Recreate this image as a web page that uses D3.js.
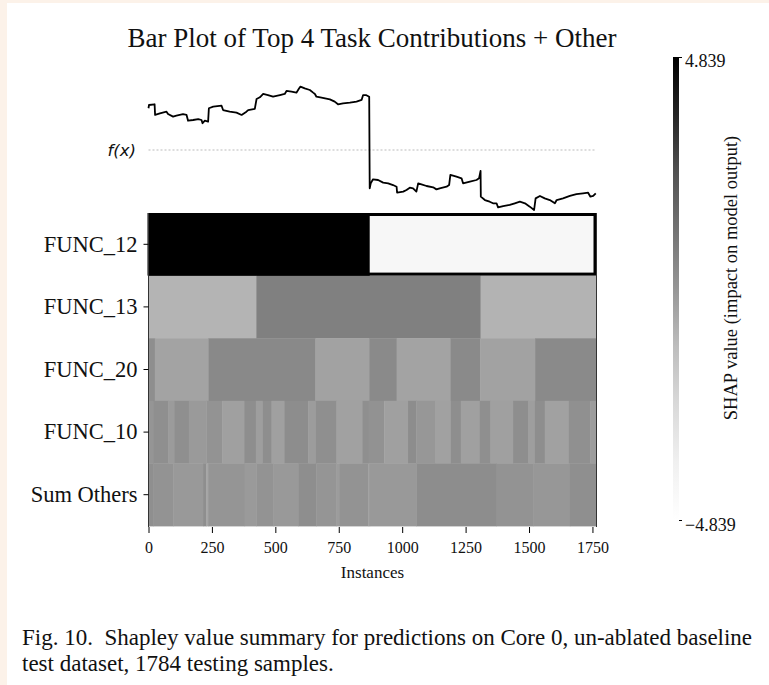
<!DOCTYPE html>
<html><head><meta charset="utf-8">
<script src="https://cdn.jsdelivr.net/npm/d3@7"></script>
<style>
  body { margin: 0; background: #fff; }
  svg { display: block; }
  text { font-family: "Liberation Serif", "Times New Roman", serif; fill: #111; }
</style>
</head><body>
<svg id="chart" width="769" height="685"></svg>
<script>
// ---- data ----------------------------------------------------------------
const rowNames = ["FUNC_12", "FUNC_13", "FUNC_20", "FUNC_10", "Sum Others"];
const nInstances = 1766;
const xTicks = [0, 250, 500, 750, 1000, 1250, 1500, 1750];
const shapMin = -4.839, shapMax = 4.839;

// each row: instance breakpoints and the SHAP value of each run between them
const func12Breaks = [0, 872, 1766];
const func12Values = [4.839, -4.19];

const func13Breaks = [0, 425, 1309, 1766];
const func13Values = [-0.93, 0.76, -0.90];

const func20Breaks = [0, 25, 236, 658, 870, 978, 1190, 1308, 1524, 1766];
const func20Values = [0.28, -0.40, 0.45, -0.37, 0.41, -0.40, 0.41, -0.37, 0.41];

const func10Breaks = [0, 18, 77, 101, 159, 228, 290, 377, 423, 449, 485, 535, 629, 658,
  741, 844, 868, 929, 1023, 1056, 1129, 1192, 1231, 1306, 1348, 1437, 1496, 1523, 1562,
  1657, 1742, 1766];
const func10Values = [0.03, 0.24, -0.16, 0.24, -0.12, 0.10, -0.31, 0.28, -0.25, 0.28,
  -0.31, 0.31, -0.19, 0.24, -0.34, 0.24, 0.14, -0.31, 0.31, -0.03, -0.34, 0.28, -0.31,
  0.24, -0.31, 0.28, -0.25, 0.28, -0.34, 0.21, -0.19];

const othersBreaks = [0, 18, 97, 215, 228, 235, 379, 425, 491, 590, 662, 741, 754, 866,
  872, 1056, 1372, 1516, 1661, 1766];
const othersValues = [0.24, 0.10, -0.09, 0.28, -0.46, 0.03, -0.12, 0.10, -0.09, 0.28,
  0.03, -0.19, 0.10, -0.25, -0.09, 0.31, 0.10, -0.03, 0.24];

// model output f(x) per instance (base value = 0)
const fxInstances = [0, 2, 24, 26, 45, 71, 77, 97, 110, 136, 150, 156, 176, 196, 209, 213,
  222, 235, 238, 255, 288, 294, 320, 347, 367, 386, 393, 419, 426, 439, 452, 471, 491, 518,
  537, 544, 564, 583, 594, 599, 616, 636, 649, 656, 662, 682, 715, 734, 747, 767, 794, 820,
  840, 846, 857, 870, 872, 876, 885, 905, 925, 945, 964, 978, 980, 1004, 1017, 1030, 1043,
  1056, 1063, 1076, 1096, 1122, 1135, 1148, 1175, 1185, 1190, 1214, 1234, 1240, 1267, 1293,
  1303, 1309, 1310, 1326, 1345, 1358, 1372, 1378, 1398, 1424, 1444, 1464, 1484, 1503, 1520,
  1526, 1543, 1562, 1582, 1602, 1609, 1634, 1661, 1687, 1713, 1733, 1742, 1753, 1763];
const fxValues = [3.48, 3.75, 3.81, 2.92, 3.06, 3.19, 3.00, 2.78, 2.86, 2.98, 2.92, 2.44,
  2.50, 2.58, 2.50, 2.23, 2.44, 2.36, 3.48, 3.61, 3.69, 3.33, 3.19, 3.11, 2.92, 3.19, 3.33,
  3.42, 4.25, 4.39, 4.67, 4.58, 4.44, 4.58, 4.67, 4.92, 4.86, 4.78, 5.14, 5.28, 5.14, 5.00,
  4.78, 4.67, 4.44, 4.36, 4.22, 4.03, 3.81, 3.89, 3.94, 4.03, 4.17, 4.58, 4.58, 4.44, -3.19,
  -2.78, -2.44, -2.50, -2.72, -2.78, -2.92, -3.06, -3.56, -3.47, -3.33, -3.14, -3.19, -3.47,
  -2.78, -2.86, -3.00, -3.11, -3.28, -3.19, -3.06, -2.92, -2.08, -2.22, -2.36, -2.78, -2.64,
  -2.50, -2.36, -1.75, -3.89, -4.17, -4.31, -4.44, -4.44, -4.78, -4.67, -4.58, -4.44, -4.31,
  -4.44, -4.72, -5.00, -4.03, -3.83, -4.03, -4.17, -4.44, -4.17, -4.03, -3.83, -3.67, -3.61,
  -3.56, -3.89, -3.83, -3.61];
const fxBase = 0;

const rows = [
  { breaks: func12Breaks, values: func12Values },
  { breaks: func13Breaks, values: func13Values },
  { breaks: func20Breaks, values: func20Values },
  { breaks: func10Breaks, values: func10Values },
  { breaks: othersBreaks, values: othersValues }
];

// ---- scales --------------------------------------------------------------
const svg = d3.select("#chart");
const W = 769, H = 685;

// sequential grey map (white -> black), piecewise linear over the 9 Greys stops
const greys9 = ["#ffffff", "#f0f0f0", "#d9d9d9", "#bdbdbd", "#969696",
                "#737373", "#525252", "#252525", "#000000"];
const color = d3.scaleLinear()
  .domain(d3.range(9).map(i => shapMin + i * (shapMax - shapMin) / 8))
  .range(greys9)
  .clamp(true);

const x = d3.scaleLinear().domain([0, nInstances]).range([148.5, 596.5]);
const y = d3.scaleBand().domain(rowNames).range([213, 526]);
const fy = d3.scaleLinear().domain([-5.5, 6.0]).range([216, 78]);

// page frame
svg.append("rect").attr("width", W).attr("height", H).attr("fill", "#ffffff");
svg.append("rect").attr("x", 0).attr("y", 0).attr("width", W).attr("height", 3).attr("fill", "#fcf2e9");
svg.append("rect").attr("x", 0).attr("y", 0).attr("width", 7).attr("height", H).attr("fill", "#fcf2e9");

// title
svg.append("text")
  .attr("x", 372).attr("y", 47)
  .attr("text-anchor", "middle")
  .style("font-size", "27px")
  .text("Bar Plot of Top 4 Task Contributions + Other");

// ---- f(x) panel ---------------------------------------------------------
svg.append("line")
  .attr("x1", x(0)).attr("x2", x(nInstances))
  .attr("y1", fy(fxBase)).attr("y2", fy(fxBase))
  .attr("stroke", "#bbbbbb").attr("stroke-width", 1)
  .attr("stroke-dasharray", "2,2");

svg.append("text")
  .attr("x", 136).attr("y", fy(fxBase) + 6)
  .attr("text-anchor", "end")
  .style("font-family", "'DejaVu Sans', sans-serif")
  .style("font-style", "italic")
  .style("font-size", "16.5px")
  .text("f(x)");

const fxLine = d3.line()
  .x((d, i) => x(fxInstances[i]))
  .y(d => fy(d));
svg.append("path")
  .attr("d", fxLine(fxValues))
  .attr("fill", "none")
  .attr("stroke", "#000")
  .attr("stroke-width", 1.8)
  .attr("stroke-linejoin", "round");

// ---- heatmap ------------------------------------------------------------
const heat = svg.append("g");
rows.forEach((row, r) => {
  const name = rowNames[r];
  heat.selectAll(null)
    .data(row.values)
    .enter().append("rect")
    .attr("x", (v, i) => x(row.breaks[i]))
    .attr("width", (v, i) => x(row.breaks[i + 1]) - x(row.breaks[i]) + 0.4)
    .attr("y", y(name))
    .attr("height", y.bandwidth() + 0.4)
    .attr("fill", v => color(v));
});

// outline on the top row
svg.append("rect")
  .attr("x", x(0) + 0.5).attr("y", y("FUNC_12") + 1.5)
  .attr("width", x(nInstances) - x(0) - 2).attr("height", y.bandwidth() - 3)
  .attr("fill", "none").attr("stroke", "#000").attr("stroke-width", 3);

// side spines
[x(0), x(nInstances)].forEach(px => {
  svg.append("line")
    .attr("x1", px).attr("x2", px)
    .attr("y1", 213).attr("y2", 527)
    .attr("stroke", "#333").attr("stroke-width", 1);
});

// y axis
const yAxis = svg.append("g")
  .attr("transform", `translate(${x(0)},0)`)
  .call(d3.axisLeft(y).tickSize(5).tickPadding(6));
yAxis.select(".domain").remove();
yAxis.selectAll("line").attr("stroke", "#000");
yAxis.selectAll("text")
  .style("font-family", "'Liberation Serif', serif")
  .style("font-size", "22.5px").attr("fill", "#111");

// x axis
const xAxis = svg.append("g")
  .attr("transform", "translate(0,527)")
  .call(d3.axisBottom(x).tickValues(xTicks).tickFormat(d3.format("d"))
    .tickSize(6).tickPadding(9));
xAxis.select(".domain").remove();
xAxis.selectAll("line").attr("stroke", "#000");
xAxis.selectAll("text")
  .style("font-family", "'Liberation Serif', serif")
  .style("font-size", "16px").attr("fill", "#111");

svg.append("text")
  .attr("x", x(nInstances / 2)).attr("y", 578)
  .attr("text-anchor", "middle")
  .style("font-size", "17px")
  .text("Instances");

// ---- colour bar --------------------------------------------------------
const cb = { x: 673, y: 57, w: 6, h: 463 };
const defs = svg.append("defs");
const grad = defs.append("linearGradient")
  .attr("id", "shapGrad").attr("x1", 0).attr("x2", 0).attr("y1", 1).attr("y2", 0);
d3.range(0, 1.0001, 0.125).forEach(t => {
  grad.append("stop")
    .attr("offset", t)
    .attr("stop-color", color(shapMin + t * (shapMax - shapMin)));
});
svg.append("rect")
  .attr("x", cb.x).attr("y", cb.y).attr("width", cb.w).attr("height", cb.h)
  .attr("fill", "url(#shapGrad)");

const cbScale = d3.scaleLinear().domain([shapMin, shapMax]).range([cb.y + cb.h, cb.y]);
const cbAxis = svg.append("g")
  .attr("transform", `translate(${cb.x + cb.w},0)`)
  .call(d3.axisRight(cbScale).tickValues([shapMin, shapMax])
    .tickSize(3).tickPadding(3)
    .tickFormat(d => d3.format(".3f")(d).replace("-", "\u2212")));
cbAxis.select(".domain").remove();
cbAxis.selectAll("line").attr("stroke", "#000");
cbAxis.selectAll("text")
  .style("font-family", "'Liberation Serif', serif")
  .style("font-size", "18px").attr("fill", "#111");
cbAxis.selectAll(".tick").filter(d => d === shapMax).select("text").attr("dy", "0.5em");
cbAxis.selectAll(".tick").filter(d => d === shapMin).select("text").attr("dy", "0.6em");

svg.append("text")
  .attr("transform", `translate(737,278) rotate(-90)`)
  .attr("text-anchor", "middle")
  .style("font-size", "18.5px")
  .text("SHAP value (impact on model output)");

// ---- caption -----------------------------------------------------------
const cap = svg.append("text")
  .attr("x", 22).attr("y", 645)
  .style("font-size", "23px")
  .attr("xml:space", "preserve");
cap.append("tspan").attr("x", 22).text("Fig. 10.  Shapley value summary for predictions on Core 0, un-ablated baseline");
cap.append("tspan").attr("x", 22).attr("dy", 25.5).text("test dataset, 1784 testing samples.");
</script>
</body></html>
